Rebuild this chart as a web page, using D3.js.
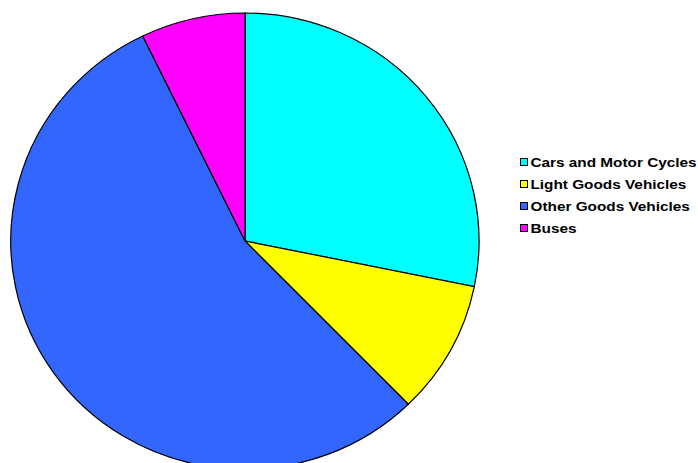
<!DOCTYPE html>
<html>
<head>
<meta charset="utf-8">
<script src="https://cdn.jsdelivr.net/npm/d3@7"></script>
<style>
  body { margin: 0; background: #fff; }
  svg { display: block; }
  .legend text { font-family: "Liberation Sans", Arial, sans-serif; font-weight: bold; font-size: 13px; fill: #000; }
</style>
</head>
<body>
<svg id="chart" width="698" height="463"></svg>
<script>
'use strict';
// vehicle categories and their shares
const categories = ['Cars and Motor Cycles', 'Light Goods Vehicles', 'Other Goods Vehicles', 'Buses'];
const shares = [28.2, 9.5, 55.1, 7.2];
const colours = ['#00ffff', '#ffff00', '#3366ff', '#ff00ff'];

const data = categories.map((c, i) => ({ name: c, value: shares[i], colour: colours[i] }));

const svg = d3.select('#chart');
const centre = { x: 245, y: 241 };
const radius = { x: 234, y: 228 };

const pie = d3.pie().sort(null).value(d => d.value);
const arc = d3.arc().innerRadius(0).outerRadius(1);

// pie is drawn on a unit circle and stretched a little into an ellipse
svg.append('g')
    .attr('transform', 'translate(' + centre.x + ',' + centre.y + ') scale(' + radius.x + ',' + radius.y + ')')
    .selectAll('path')
    .data(pie(data))
    .enter()
    .append('path')
    .attr('d', arc)
    .attr('fill', d => d.data.colour)
    .attr('stroke', '#000')
    .attr('stroke-width', 1.2)
    .attr('vector-effect', 'non-scaling-stroke');

const legend = svg.append('g')
    .attr('class', 'legend')
    .attr('transform', 'translate(520,158)');

const y = d3.scaleBand().domain(categories).range([0, 88]);

const rows = legend.selectAll('g')
    .data(data)
    .enter()
    .append('g')
    .attr('transform', d => 'translate(0,' + y(d.name) + ')');

rows.append('rect')
    .attr('x', 0.5)
    .attr('y', 0.5)
    .attr('width', 7)
    .attr('height', 7)
    .attr('fill', d => d.colour)
    .attr('stroke', '#000')
    .attr('stroke-width', 1);

// legend text in the original is a bit wider than plain Arial bold
rows.append('text')
    .attr('transform', 'translate(10.5,8.8) scale(1.18,1)')
    .text(d => d.name);
</script>
</body>
</html>
